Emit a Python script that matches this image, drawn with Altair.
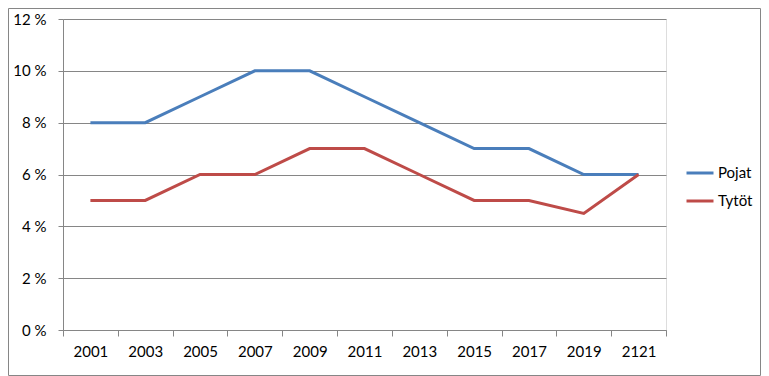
import altair as alt
import pandas as pd

years = ["2001", "2003", "2005", "2007", "2009", "2011", "2013", "2015", "2017", "2019", "2121"]
pojat = [8, 8, 9, 10, 10, 9, 8, 7, 7, 6, 6]
tytot = [5, 5, 6, 6, 7, 7, 6, 5, 5, 4.5, 6]
series_names = ["Pojat", "Tytöt"]
series_colors = ["#4A7EBB", "#BE4B48"]
y_ticks = [0, 2, 4, 6, 8, 10, 12]

rows = []
for name, vals in zip(series_names, [pojat, tytot]):
    for i, (yr, v) in enumerate(zip(years, vals)):
        rows.append({"year": yr, "value": v, "series": name, "order": i})
df = pd.DataFrame(rows)

FONT = "Lato"
GRAY = "#868686"

lines = alt.Chart(df).mark_line(strokeWidth=3).encode(
    x=alt.X(
        "year:O",
        sort=years,
        scale=alt.Scale(type="band", paddingInner=0, paddingOuter=0),
        bandPosition=0.5,
        axis=alt.Axis(
            title=None, labelAngle=0, tickBand="extent", grid=False,
            domainColor=GRAY, tickColor=GRAY, tickSize=6, labelPadding=8,
            labelFont=FONT, labelFontSize=15, labelColor="#000000",
        ),
    ),
    y=alt.Y(
        "value:Q",
        scale=alt.Scale(domain=[0, 12], nice=False, zero=True),
        axis=alt.Axis(
            title=None, values=y_ticks, labelExpr="datum.value + ' %'",
            grid=True, gridColor=GRAY, domainColor=GRAY, tickColor=GRAY,
            tickSize=5, labelPadding=12, labelFont=FONT, labelFontSize=15,
            labelColor="#000000",
        ),
    ),
    color=alt.Color(
        "series:N",
        scale=alt.Scale(domain=series_names, range=series_colors),
        legend=alt.Legend(
            title=None, orient="none", legendX=622, legendY=139,
            symbolType="stroke", symbolSize=729, symbolStrokeWidth=3,
            labelFont=FONT, labelFontSize=15, labelColor="#000000",
            labelOffset=3, rowPadding=5,
        ),
    ),
    order="order:Q",
)

border = alt.Chart(pd.DataFrame({"a": [0]})).mark_rect(
    fill=None, stroke=GRAY, strokeWidth=1
).encode(
    x=alt.value(-54.5), x2=alt.value(697.5), y=alt.value(-10.5), y2=alt.value(356.5)
)

chart = alt.layer(border, lines).properties(
    width=603, height=311,
    padding={"left": 55, "top": 11, "right": 95, "bottom": 46},
    autosize=alt.AutoSizeParams(type="none"),
).configure_view(stroke=None).configure(background="white")

chart.save("out.html", embed_options={"renderer": "svg", "actions": False})
